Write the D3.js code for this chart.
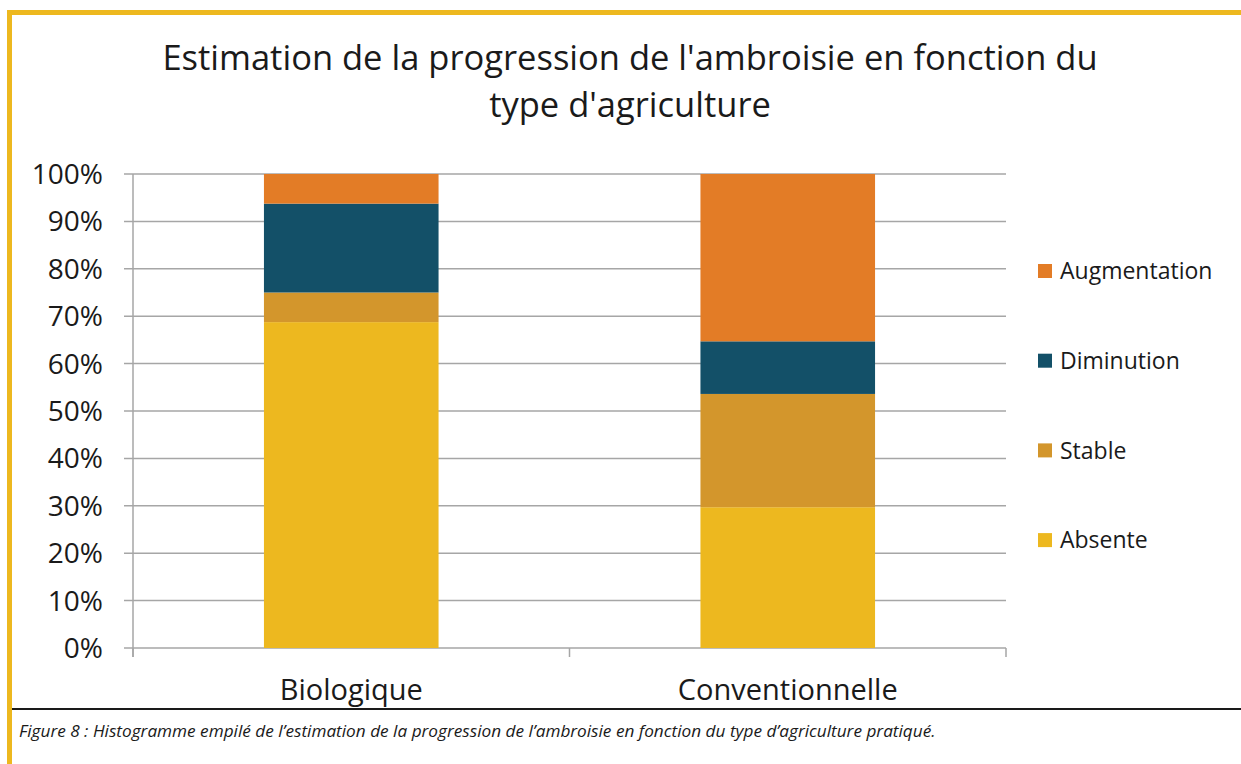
<!DOCTYPE html>
<html>
<head>
<meta charset="utf-8">
<script src="https://cdn.jsdelivr.net/npm/d3@7"></script>
<style>
  body { margin: 0; background: #fff; }
  text { font-family: 'Open Sans', 'Noto Sans', sans-serif; fill: #1a1a1a; }
</style>
</head>
<body>
<div id="root"></div>
<script>
// data
const categories = ['Biologique', 'Conventionnelle'];
const seriesNames = ['Absente', 'Stable', 'Diminution', 'Augmentation'];
const absente = [68.75, 29.7];
const stable = [6.25, 23.9];
const diminution = [18.75, 11.1];
const augmentation = [6.25, 35.3];
const yTicks = [0, 10, 20, 30, 40, 50, 60, 70, 80, 90, 100];

const titleLines = [
  "Estimation de la progression de l'ambroisie en fonction du",
  "type d'agriculture"
];
const caption = 'Figure 8 : Histogramme empilé de l’estimation de la progression de l’ambroisie en fonction du type d’agriculture pratiqué.';

const colors = {
  Absente: '#EDB81F',
  Stable: '#D3962C',
  Diminution: '#135068',
  Augmentation: '#E37C26'
};

const width = 1241;
const height = 764;

// plot area
const plot = { left: 133, right: 1006, top: 174, bottom: 648 };

const rows = categories.map((c, i) => ({
  cat: c,
  Absente: absente[i],
  Stable: stable[i],
  Diminution: diminution[i],
  Augmentation: augmentation[i]
}));

const svg = d3.select('#root')
  .append('svg')
  .attr('width', width)
  .attr('height', height);

// yellow frame
svg.append('rect')
  .attr('x', 7).attr('y', 10)
  .attr('width', 5).attr('height', height - 10)
  .attr('fill', '#EDB81F');
svg.append('rect')
  .attr('x', 7).attr('y', 10)
  .attr('width', width - 7).attr('height', 5)
  .attr('fill', '#EDB81F');

// title
svg.append('g')
  .selectAll('text')
  .data(titleLines)
  .enter()
  .append('text')
  .attr('x', 630)
  .attr('y', (d, i) => 70 + i * 47)
  .attr('text-anchor', 'middle')
  .style('font-size', '34.5px')
  .text(d => d);

const x = d3.scaleBand()
  .domain(categories)
  .range([plot.left, plot.right])
  .paddingInner(0.6)
  .paddingOuter(0.3);

const y = d3.scaleLinear()
  .domain([0, 100])
  .range([plot.bottom, plot.top]);

// gridlines
svg.append('g')
  .selectAll('line')
  .data(yTicks)
  .enter()
  .append('line')
  .attr('x1', plot.left - 9)
  .attr('x2', plot.right)
  .attr('y1', d => y(d))
  .attr('y2', d => y(d))
  .attr('stroke', '#A6A6A6')
  .attr('stroke-width', 1.5);

// y axis line
svg.append('line')
  .attr('x1', plot.left).attr('x2', plot.left)
  .attr('y1', plot.top).attr('y2', plot.bottom + 9)
  .attr('stroke', '#A6A6A6')
  .attr('stroke-width', 1.5);

// x ticks at band edges
const xEdges = [plot.left, (plot.left + plot.right) / 2, plot.right];
svg.append('g')
  .selectAll('line')
  .data(xEdges)
  .enter()
  .append('line')
  .attr('x1', d => d).attr('x2', d => d)
  .attr('y1', plot.bottom).attr('y2', plot.bottom + 9)
  .attr('stroke', '#A6A6A6')
  .attr('stroke-width', 1.5);

// y labels
svg.append('g')
  .selectAll('text')
  .data(yTicks)
  .enter()
  .append('text')
  .attr('x', 103)
  .attr('y', d => y(d))
  .attr('dy', '0.36em')
  .attr('text-anchor', 'end')
  .style('font-size', '28px')
  .text(d => d + '%');

// stacked bars
const stack = d3.stack().keys(seriesNames);
const stacked = stack(rows);

svg.append('g')
  .selectAll('g')
  .data(stacked)
  .enter()
  .append('g')
  .attr('fill', d => colors[d.key])
  .selectAll('rect')
  .data(d => d)
  .enter()
  .append('rect')
  .attr('x', d => x(d.data.cat))
  .attr('width', x.bandwidth())
  .attr('y', d => y(d[1]))
  .attr('height', d => y(d[0]) - y(d[1]));

// x labels
svg.append('g')
  .selectAll('text')
  .data(categories)
  .enter()
  .append('text')
  .attr('x', d => x(d) + x.bandwidth() / 2)
  .attr('y', 700)
  .attr('text-anchor', 'middle')
  .style('font-size', '29px')
  .text(d => d);

// legend
const legendNames = seriesNames.slice().reverse();
const legend = svg.append('g')
  .selectAll('g')
  .data(legendNames)
  .enter()
  .append('g')
  .attr('transform', (d, i) => `translate(1038, ${271 + i * 89.7})`);
legend.append('rect')
  .attr('x', 0).attr('y', -7)
  .attr('width', 14).attr('height', 14)
  .attr('fill', d => colors[d]);
legend.append('text')
  .attr('x', 22)
  .attr('y', 0)
  .attr('dy', '0.36em')
  .style('font-size', '23px')
  .text(d => d);

// black separator line
svg.append('line')
  .attr('x1', 12).attr('x2', width)
  .attr('y1', 709).attr('y2', 709)
  .attr('stroke', '#1a1a1a')
  .attr('stroke-width', 2);

// caption
svg.append('text')
  .attr('x', 19)
  .attr('y', 737)
  .style('font-size', '17.2px')
  .style('font-style', 'italic')
  .text(caption);
</script>
</body>
</html>
